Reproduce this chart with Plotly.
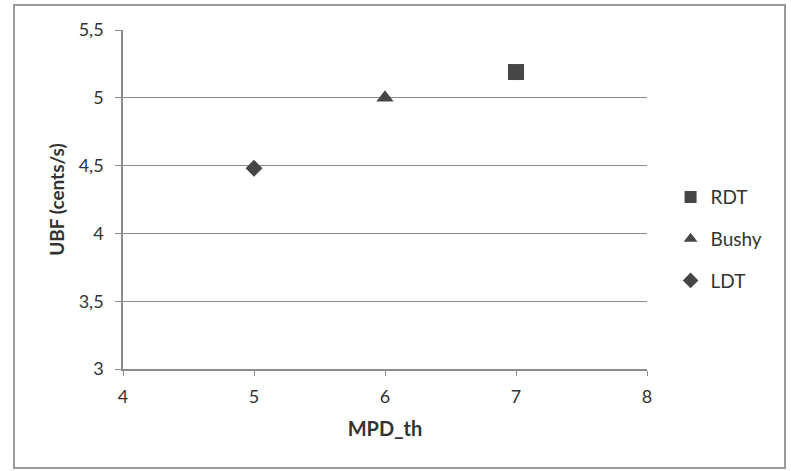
import plotly.graph_objects as go

series_names = ["RDT", "Bushy", "LDT"]
mpd_th = [7, 6, 5]
ubf = [5.19, 5.0, 4.48]
symbols = ["square", "triangle-up", "diamond"]
sizes = [16, 15, 13]

x_ticks = [4, 5, 6, 7, 8]
y_ticks = [3, 3.5, 4, 4.5, 5, 5.5]

GRAY = "#8c8c8c"
TXT = "#333333"
MK = "#464646"
FONT = "Lato"

fig = go.Figure()
for name, x, y, sym, sz in zip(series_names, mpd_th, ubf, symbols, sizes):
    fig.add_trace(go.Scatter(
        x=[x], y=[y], mode="markers", name=name, legendgroup=name,
        marker=dict(symbol=sym, size=sz, color=MK, line=dict(width=0)),
    ))

fig.update_layout(
    width=791, height=471,
    margin=dict(l=123, r=144, t=30, b=102),
    paper_bgcolor="white", plot_bgcolor="white",
    separators=", ",
    font=dict(family=FONT, size=18, color=TXT),
    showlegend=True,
    legend=dict(
        x=1.045, y=0.383, xanchor="left", yanchor="middle",
        font=dict(family=FONT, size=19, color=TXT),
        tracegroupgap=14, itemsizing="constant",
        bgcolor="rgba(0,0,0,0)",
    ),
    xaxis=dict(
        range=[4, 8], tickvals=x_ticks, showgrid=False, zeroline=False,
        showline=True, linecolor=GRAY, linewidth=1.5,
        ticks="outside", ticklen=5, tickcolor=GRAY,
        tickfont=dict(family=FONT, size=18, color=TXT),
        ticklabelstandoff=6,
        title=dict(text="<b>MPD_th</b>", font=dict(family=FONT, size=20, color=TXT), standoff=16),
    ),
    yaxis=dict(
        range=[3, 5.5], tickvals=y_ticks, tickformat=".1~f",
        showgrid=True, gridcolor=GRAY, gridwidth=1.4, zeroline=False,
        showline=True, linecolor=GRAY, linewidth=1.5,
        ticks="outside", ticklen=6, tickcolor=GRAY,
        tickfont=dict(family=FONT, size=18, color=TXT),
        ticklabelstandoff=8,
        title=dict(text="<b>UBF (cents/s)</b>", font=dict(family=FONT, size=19, color=TXT), standoff=9),
    ),
)

fig.add_shape(type="rect", xref="paper", yref="paper",
              x0=(14 - 123) / 524, x1=(785 - 123) / 524,
              y0=(369 - 468) / 339, y1=(369 - 5) / 339,
              line=dict(color="#9a9a9a", width=2), fillcolor="rgba(0,0,0,0)", layer="below")

fig.write_html("out.html")
